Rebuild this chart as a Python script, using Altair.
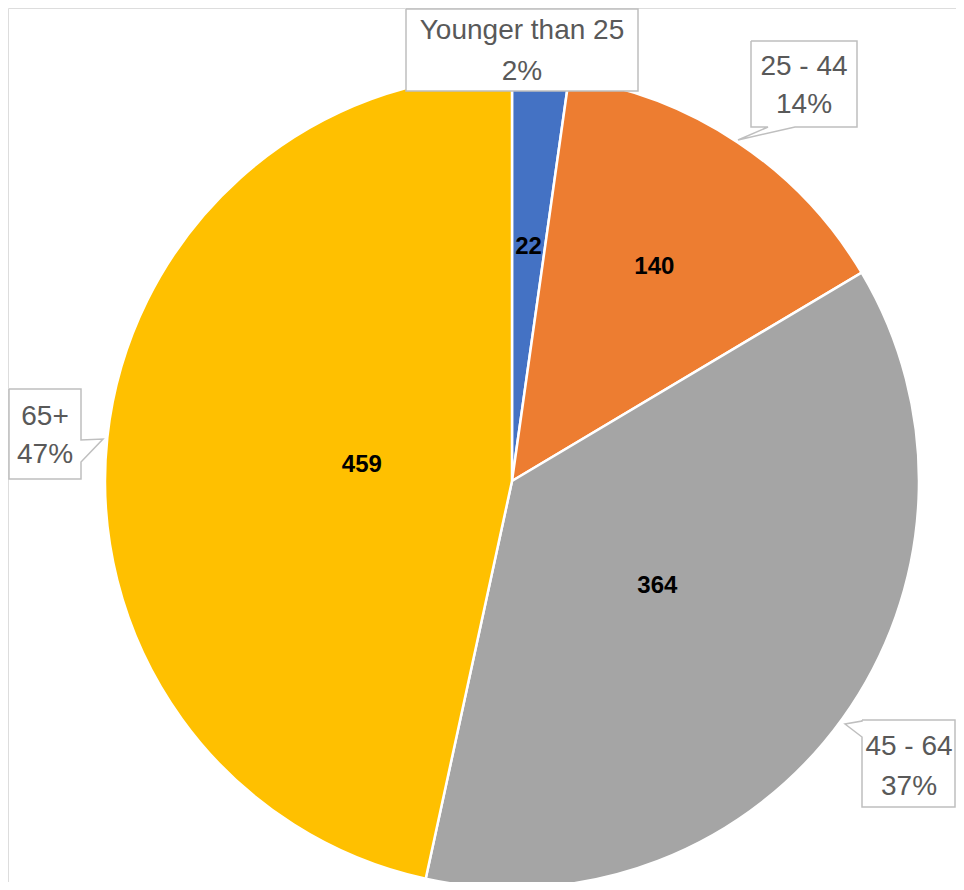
import altair as alt
import pandas as pd

# ---- data ----
categories = ["Younger than 25", "25 - 44", "45 - 64", "65+"]
values = [22, 140, 364, 459]
colors = ["#4472C4", "#ED7D31", "#A5A5A5", "#FFC000"]

total = sum(values)
pcts = [f"{round(v / total * 100)}%" for v in values]

# ---- layout / style (not data) ----
W, H = 948, 874
CX, CY, R = 504, 473, 407
label_radius = [235, 257, 179, 151]
font = "Liberation Sans"

pie_df = pd.DataFrame({
    "category": categories,
    "value": values,
    "idx": list(range(len(values))),
    "lr": label_radius,
})

scale = alt.Scale(domain=categories, range=colors)

arcs = alt.Chart(pie_df).mark_arc(radius=R, stroke="white", strokeWidth=2.5).encode(
    theta=alt.Theta("value:Q", stack=True),
    order=alt.Order("idx:Q"),
    x=alt.value(CX),
    y=alt.value(CY),
    color=alt.Color("category:N", scale=scale, legend=None),
)

inner = alt.Chart(pie_df).transform_window(
    cum="sum(value)", sort=[alt.SortField("idx")], frame=[None, 0]
).transform_calculate(
    mid="datum.cum - datum.value / 2"
).mark_text(font=font, fontSize=24, fontWeight="bold", color="black",
            align="center", baseline="middle").encode(
    theta=alt.Theta("mid:Q", stack=None),
    radius=alt.Radius("lr:Q", scale=None),
    x=alt.value(CX),
    y=alt.value(CY),
    text=alt.Text("value:Q"),
)

# callout outlines (annotation geometry)
callout_shapes = {
    0: [(398, 1), (630, 1), (630, 83), (398, 83), (398, 1)],
    1: [(743, 33), (849, 33), (849, 119), (787, 119), (730, 132), (760, 119), (743, 119), (743, 33)],
    3: [(1, 381), (73, 381), (73, 432), (95, 431), (73, 454), (73, 471), (1, 471), (1, 381)],
    2: [(854, 712), (947, 712), (947, 799), (854, 799), (854, 729), (837, 716), (854, 713), (854, 712)],
}
callout_text_pos = {0: (514, 31, 72), 1: (796, 67, 105), 2: (901, 747, 787), 3: (37, 417, 455)}

rect_rows, line_rows, text_rows = [], [], []
for i, pts in callout_shapes.items():
    xs = [p[0] for p in pts]
    ys = [p[1] for p in pts]
    rect_rows.append({"x": min(xs), "x2": max(xs), "y": min(ys), "y2": max(ys)})
    for k, (px, py) in enumerate(pts):
        line_rows.append({"box": i, "k": k, "px": px, "py": py})
    tx, y1, y2 = callout_text_pos[i]
    text_rows.append({"tx": tx, "ty": y1, "t": categories[i]})
    text_rows.append({"tx": tx, "ty": y2, "t": pcts[i]})

rects = alt.Chart(pd.DataFrame(rect_rows)).mark_rect(fill="white").encode(
    x=alt.X("x:Q", scale=None, axis=None), x2="x2:Q",
    y=alt.Y("y:Q", scale=None, axis=None), y2="y2:Q",
)
outlines = alt.Chart(pd.DataFrame(line_rows)).mark_line(color="#BFBFBF", strokeWidth=1.5).encode(
    x=alt.X("px:Q", scale=None, axis=None),
    y=alt.Y("py:Q", scale=None, axis=None),
    detail="box:N",
    order="k:Q",
)
texts = alt.Chart(pd.DataFrame(text_rows)).mark_text(
    font=font, fontSize=28, color="#595959", align="center", baseline="alphabetic"
).encode(
    x=alt.X("tx:Q", scale=None, axis=None),
    y=alt.Y("ty:Q", scale=None, axis=None),
    text="t:N",
)

chart = alt.layer(arcs, inner, rects, outlines, texts).properties(
    width=W, height=H,
    autosize=alt.AutoSizeParams(type="none"),
    padding=0,
).configure_view(
    stroke="transparent", strokeWidth=0
).configure_axis(
    domain=False, ticks=False, labels=False, grid=False
).configure(background="white")

chart.save("out.html", embed_options={"renderer": "svg", "actions": False})
